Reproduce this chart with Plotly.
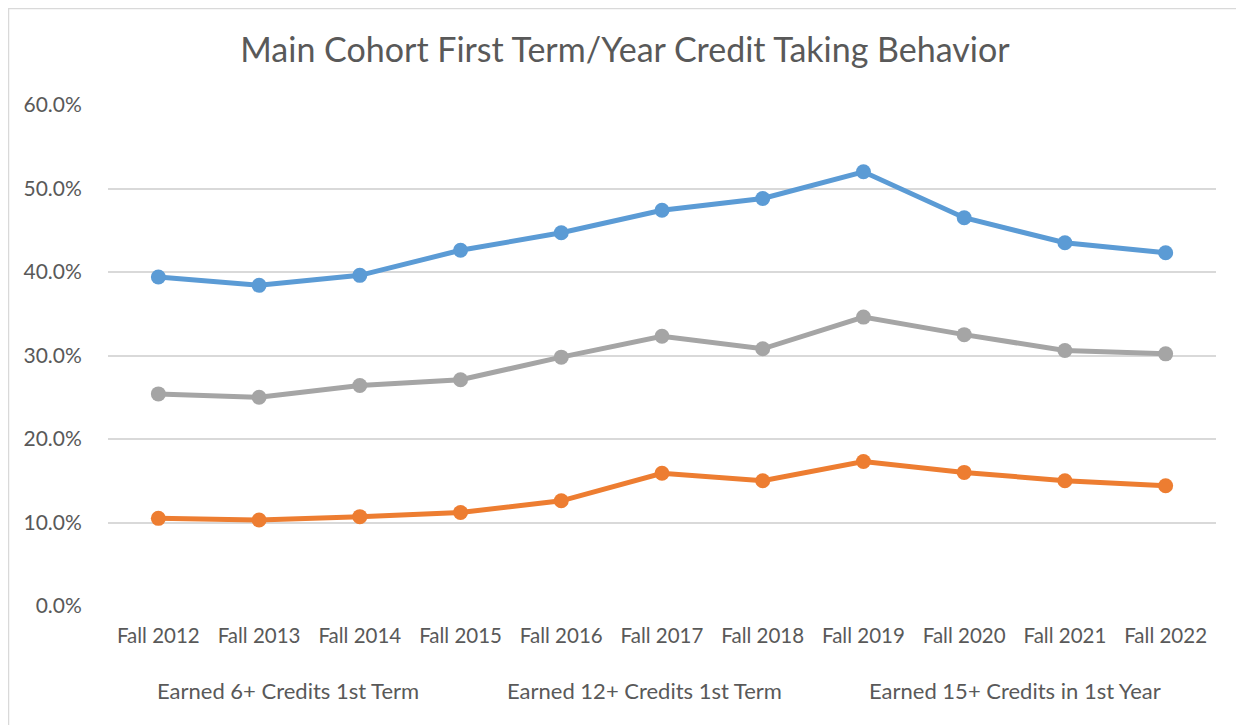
import plotly.graph_objects as go

categories = ["Fall 2012", "Fall 2013", "Fall 2014", "Fall 2015", "Fall 2016", "Fall 2017",
              "Fall 2018", "Fall 2019", "Fall 2020", "Fall 2021", "Fall 2022"]
earned_6_first_term = [39.4, 38.4, 39.6, 42.6, 44.7, 47.4, 48.8, 52.0, 46.5, 43.5, 42.3]
earned_12_first_term = [10.5, 10.3, 10.7, 11.2, 12.6, 15.9, 15.0, 17.3, 16.0, 15.0, 14.4]
earned_15_first_year = [25.4, 25.0, 26.4, 27.1, 29.8, 32.3, 30.8, 34.6, 32.5, 30.6, 30.2]
series_names = ["Earned 6+ Credits 1st Term", "Earned 12+ Credits 1st Term",
                "Earned 15+ Credits in 1st Year"]
y_ticks = [0, 10, 20, 30, 40, 50, 60]
y_tick_labels = ["0.0%", "10.0%", "20.0%", "30.0%", "40.0%", "50.0%", "60.0%"]

colors = ["#5B9BD5", "#ED7D31", "#A5A5A5"]
FONT = "Lato"
TXT = "#595959"

fig = go.Figure()
for name, vals, col in zip(series_names,
                           [earned_6_first_term, earned_12_first_term, earned_15_first_year],
                           colors):
    fig.add_trace(go.Scatter(
        x=categories, y=[v / 100 for v in vals], name=name, mode="lines+markers",
        line=dict(color=col, width=5), marker=dict(color=col, size=15),
        showlegend=False,
        hovertemplate="%{x}: %{y:.1%}<extra>" + name + "</extra>"))

W, H = 1244, 725
OFF = 8  # page body margin offset
L, R, T, B = 108 - OFF, 1216 - OFF, 105 - OFF, 606 - OFF

def px_x(p):
    return (p - OFF - L) / (R - L)

def px_y(p):
    return (B - (p - OFF)) / (B - T)

# legend labels (text only, as in reference)
legend_x = [288, 644, 1015]
annotations = []
for name, lx in zip(series_names, legend_x):
    annotations.append(dict(text=name, x=px_x(lx), y=px_y(690), xref="paper", yref="paper",
                            xanchor="center", yanchor="middle", showarrow=False,
                            font=dict(family=FONT, size=22, color=TXT)))

fig.update_layout(
    width=W, height=H,
    margin=dict(l=L, r=W - R, t=T, b=H - B),
    paper_bgcolor="white", plot_bgcolor="white",
    title=dict(text="Main Cohort First Term/Year Credit Taking Behavior",
               x=px_x(625), xref="paper", xanchor="center",
               y=1 - (50 - OFF) / H, yanchor="middle",
               font=dict(family=FONT, size=34, color=TXT)),
    font=dict(family=FONT, color=TXT),
    xaxis=dict(type="category", range=[-0.5, len(categories) - 0.5],
               showgrid=False, showline=False, zeroline=False,
               ticks="outside", ticklen=11, tickcolor="rgba(0,0,0,0)",
               tickfont=dict(family=FONT, size=20.5, color=TXT)),
    yaxis=dict(range=[0, 0.6], tickvals=[v / 100 for v in y_ticks], ticktext=y_tick_labels,
               showgrid=True, gridcolor="#D9D9D9", gridwidth=1.5, zeroline=False,
               showline=False, ticks="outside", ticklen=21, tickcolor="rgba(0,0,0,0)",
               tickfont=dict(family=FONT, size=21, color=TXT)),
    annotations=annotations,
    shapes=[dict(type="rect", xref="paper", yref="paper",
                 x0=px_x(8.5), x1=px_x(1238), y0=px_y(740), y1=px_y(8.5),
                 line=dict(color="#D9D9D9", width=1.5), fillcolor="rgba(0,0,0,0)", layer="below")],
)

fig.write_html("out.html")
